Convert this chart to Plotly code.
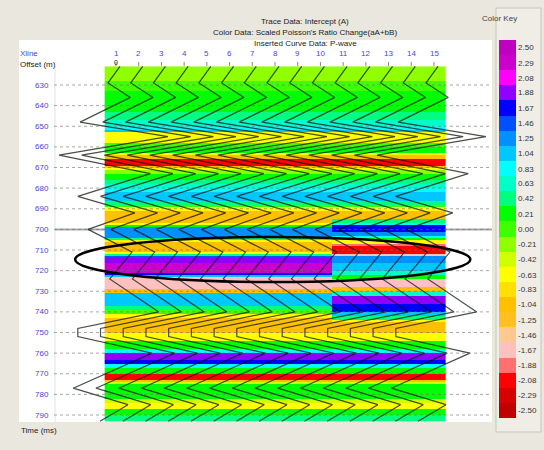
import numpy as np
import plotly.graph_objects as go

# ---------------------------------------------------------------- data
xlines = list(range(1, 16))
time_ticks = list(range(630, 800, 10))

# Colour key levels (scaled Poisson's ratio change) and their colours
color_levels = [2.50, 2.29, 2.08, 1.88, 1.67, 1.46, 1.25, 1.04, 0.83, 0.63, 0.42, 0.21,
                0.00, -0.21, -0.42, -0.63, -0.83, -1.04, -1.25, -1.46, -1.67, -1.88,
                -2.08, -2.29, -2.50]
level_colors = ["#c000c0", "#cc00cc", "#ff00ff", "#9000ff", "#0000ff", "#0050ff", "#0090ff",
                "#00c8ff", "#00ffff", "#00ffc8", "#00ff80", "#00ff00", "#40ff00", "#90ff00",
                "#d0ff00", "#ffff00", "#ffe000", "#ffc000", "#ffc020", "#ffc890", "#ffc0c0",
                "#ff7070", "#ff0000", "#d80000", "#c00000"]

# Colour data for xlines 1-10: band start time (ms) and value
left_band_top_ms = [621, 625, 628, 633, 643, 647, 650.5, 652, 653.5, 658, 660, 663, 664.5,
                    666, 669, 670, 671.5, 673, 676, 678.5, 680.5, 682, 686, 688, 689.5, 691,
                    697.5, 698.5, 699.5, 704, 705.5, 706.5, 711.5, 712.5, 713.5, 714.5, 716,
                    721, 722.5, 723, 729.5, 731, 737.5, 739.5, 741, 743, 750, 754.5, 758,
                    760.5, 763, 765.5, 767.5, 770.5, 773, 774.5, 775.5, 782.5, 784.5, 787.5,
                    790]
left_band_value = [-0.21, -0.21, 0.00, 0.21, 0.42, 0.63, 0.83, 1.04, -0.63, 0.00, 0.21, -0.63,
                   -1.04, -2.08, -1.04, -0.63, -0.21, 0.21, 0.42, 0.63, 0.83, 1.04, 0.42, 0.00,
                   -0.63, -1.04, -0.63, 0.21, 1.25, 0.42, -0.63, -1.04, -0.63, 0.42, 1.46, 1.88,
                   2.29, 1.67, 1.04, -1.67, -1.04, 1.04, 0.42, 0.00, -0.63, -1.04, -0.63, 0.21,
                   0.83, 1.88, 1.67, 0.83, 0.21, -2.08, -1.04, -0.42, 0.21, -0.42, -0.63, 0.21,
                   0.42]

# Colour data for xlines 11-15 inside the anomaly window
anomaly_xlines = [11, 12, 13, 14, 15]
anomaly_band_top_ms = [694, 695.5, 697, 698, 701, 703, 704, 705.5, 707.5, 708.5, 712.5, 713.5,
                       716, 720, 722.5, 724.5, 728, 730.5, 732.5, 736, 740.5, 742.5, 744,
                       745.5]
anomaly_band_value = [-1.04, 0.42, 0.83, 1.67, 1.25, 0.83, 0.21, -0.63, -1.88, -2.08, -1.67,
                      1.25, 1.04, 0.63, 0.21, -1.67, -1.04, 0.63, 1.88, 1.67, 1.04, 0.42,
                      -0.63, -1.04]
anomaly_end_ms = 750

# Intercept (A) trace: time (ms) and normalised amplitude
intercept_time_ms = [621, 629, 636, 648, 655, 664, 673, 684, 692, 700, 711, 724, 740, 748,
                     752, 760, 777, 785, 793]
intercept_amp = [0.07, -0.14, 0.25, -0.63, 0.91, -1.00, 0.60, -0.67, 0.33, -0.49, 0.28,
                 -0.11, 0.75, -0.67, -0.67, 0.63, -0.75, 0.21, -0.28]

# ------------------------------------------------------------- geometry
W, H = 544, 450
XL_PX = 22.714          # pixels per xline
X1_PX = 116             # pixel column of xline 1
MS_PX = 2.0625          # pixels per millisecond
T630_PX = 85            # pixel row of 630 ms
WIGGLE_GAIN = 2.51      # trace deflection in xline spacings per unit amplitude

x_range = [1 - X1_PX / XL_PX, 1 + (W - X1_PX) / XL_PX]
y_range = [630 + (H - T630_PX) / MS_PX, 630 - T630_PX / MS_PX]


def px(p):
    return p / W


def py(p):
    return 1 - p / H


FONT = "Liberation Sans"
BLUE = "#4646d6"


def band_lookup(t, tops, values):
    idx = np.searchsorted(np.asarray(tops), t, side="right") - 1
    return values[max(idx, 0)]


# ---------------------------------------------------------------- grid
sample_ms = np.arange(621.5, 793.0, 1.0)
z = np.zeros((len(sample_ms), len(xlines)))
for i, t in enumerate(sample_ms):
    base = band_lookup(t, left_band_top_ms, left_band_value)
    for j, xl in enumerate(xlines):
        val = base
        if xl in anomaly_xlines and anomaly_band_top_ms[0] <= t < anomaly_end_ms:
            val = band_lookup(t, anomaly_band_top_ms, anomaly_band_value)
        z[i, j] = val

# discrete colour scale, one bin per level
n = len(color_levels)
step = (color_levels[0] - color_levels[-1]) / (n - 1)
zmin = color_levels[-1] - step / 2
zmax = color_levels[0] + step / 2
asc_colors = level_colors[::-1]
colorscale = []
for k, c in enumerate(asc_colors):
    colorscale.append([k / n, c])
    colorscale.append([(k + 1) / n, c])

fig = go.Figure()

fig.add_trace(go.Heatmap(
    x=xlines, y=sample_ms, z=z, zmin=zmin, zmax=zmax, colorscale=colorscale,
    hoverinfo="skip",
    colorbar=dict(
        x=px(499), xanchor="left", xpad=0, y=py(40), yanchor="top", ypad=0,
        len=378, lenmode="pixels", thickness=17, thicknessmode="pixels",
        outlinewidth=0, tickvals=color_levels,
        ticktext=[f"{v:.2f}" for v in color_levels], ticks="",
        tickfont=dict(family=FONT, size=8, color="#333333"),
    ),
))

# wiggle traces
for xl in xlines:
    fig.add_trace(go.Scatter(
        x=[xl + WIGGLE_GAIN * a for a in intercept_amp], y=intercept_time_ms,
        mode="lines", line=dict(color="rgba(10,20,10,0.75)", width=1.2),
        hoverinfo="skip", showlegend=False,
    ))

shapes = []
# white display panel
shapes.append(dict(type="rect", xref="paper", yref="paper", x0=px(19), x1=px(492),
                   y0=py(422), y1=py(40), fillcolor="white", line=dict(width=0),
                   layer="below"))
# colour key group box
shapes.append(dict(type="rect", xref="paper", yref="paper", x0=px(496), x1=px(541),
                   y0=py(432), y1=py(8), fillcolor="#efede6",
                   line=dict(color="#c9c6bb", width=1), layer="below"))
# left guide line
shapes.append(dict(type="line", xref="paper", yref="paper", x0=px(55), x1=px(55),
                   y0=py(422), y1=py(66), line=dict(color="#e2e2e2", width=1),
                   layer="below"))
# horizon at 700 ms
shapes.append(dict(type="line", xref="paper", yref="y", x0=px(55), x1=px(492),
                   y0=700, y1=700, line=dict(color="#a8a8a8", width=2), layer="below"))
# dotted time grid
for t in time_ticks:
    shapes.append(dict(type="line", xref="paper", yref="y", x0=px(54), x1=px(492),
                       y0=t, y1=t, line=dict(color="rgba(110,110,110,0.6)", width=1,
                                             dash="dot"), layer="above"))
# xline tick marks
for xl in xlines:
    shapes.append(dict(type="line", xref="x", yref="paper", x0=xl, x1=xl,
                       y0=py(66), y1=py(62), line=dict(color="#888888", width=1)))
# anomaly outline
shapes.append(dict(type="circle", xref="x", yref="y", x0=-0.8, x1=16.6,
                   y0=703.7, y1=725.5, line=dict(color="black", width=2.5)))

ann = []
titles = ["Trace Data: Intercept (A)",
          "Color Data: Scaled Poisson's Ratio Change(aA+bB)",
          "Inserted Curve Data: P-wave"]
for k, txt in enumerate(titles):
    ann.append(dict(text=txt, xref="paper", yref="paper", x=px(305), y=py(15 + 11 * k),
                    showarrow=False, font=dict(family=FONT, size=8, color="#222222")))
ann.append(dict(text="Xline", xref="paper", yref="paper", x=px(18), y=py(47),
                xanchor="left", showarrow=False, font=dict(family=FONT, size=8, color=BLUE)))
ann.append(dict(text="Offset (m)", xref="paper", yref="paper", x=px(18), y=py(58),
                xanchor="left", showarrow=False,
                font=dict(family=FONT, size=8, color="#222222")))
for xl in xlines:
    ann.append(dict(text=str(xl), xref="x", yref="paper", x=xl, y=py(47),
                    showarrow=False, font=dict(family=FONT, size=8, color=BLUE)))
ann.append(dict(text="0", xref="x", yref="paper", x=xlines[0], y=py(57),
                showarrow=False, font=dict(family=FONT, size=7, color="#222222")))
for t in time_ticks:
    ann.append(dict(text=str(t), xref="paper", yref="y", x=px(51), y=t, xanchor="right",
                    showarrow=False, font=dict(family=FONT, size=8, color=BLUE)))
ann.append(dict(text="Time (ms)", xref="paper", yref="paper", x=px(19), y=py(437),
                xanchor="left", showarrow=False,
                font=dict(family=FONT, size=8, color="#222222")))
ann.append(dict(text="Color Key", xref="paper", yref="paper", x=px(519), y=py(12),
                showarrow=False, font=dict(family=FONT, size=8, color="#444444")))

fig.update_layout(
    width=W, height=H, margin=dict(l=0, r=0, t=0, b=0),
    paper_bgcolor="#e9e7de", plot_bgcolor="#e9e7de",
    xaxis=dict(range=x_range, visible=False, fixedrange=True),
    yaxis=dict(range=y_range, visible=False, fixedrange=True),
    shapes=shapes, annotations=ann, showlegend=False,
)

fig.write_html("out.html")
